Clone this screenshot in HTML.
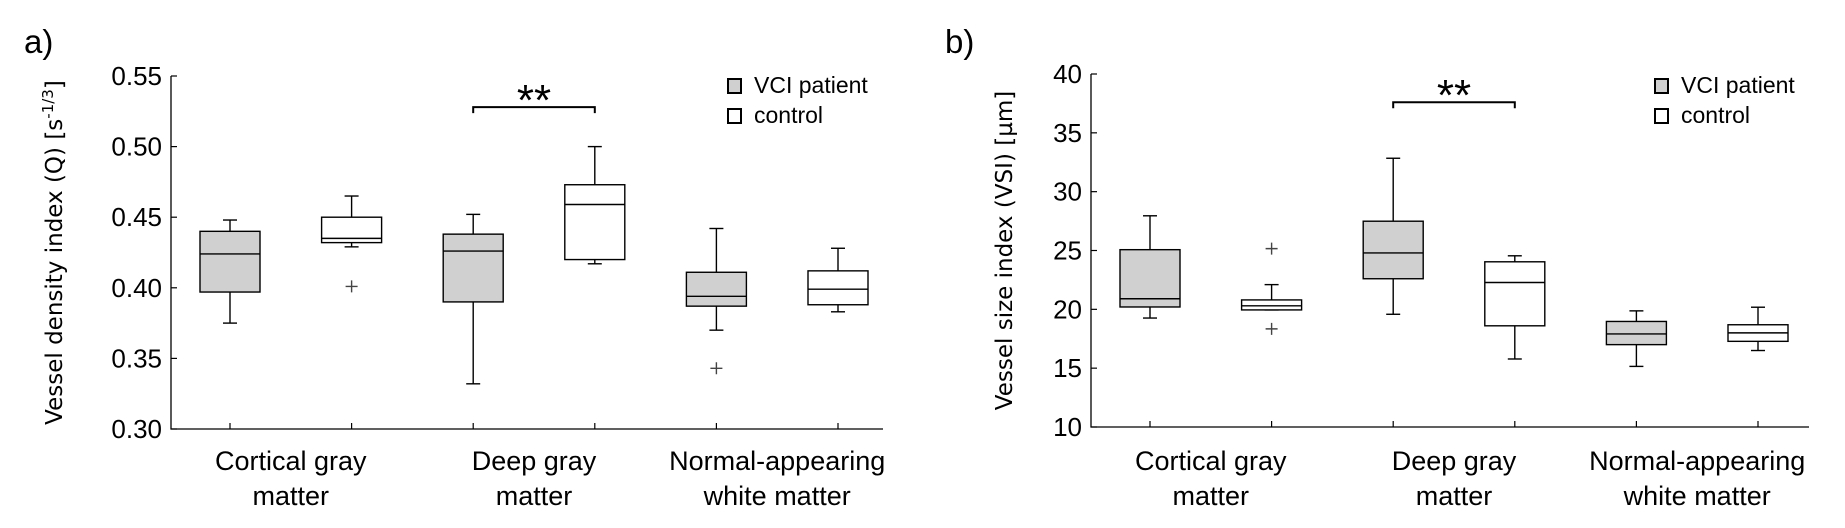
<!DOCTYPE html>
<html><head><meta charset="utf-8"><style>
html,body{margin:0;padding:0;background:#fff;}
svg{display:block;}
text{font-family:"Liberation Sans",sans-serif;fill:#000;}
.yt{font-family:"DejaVu Sans","Liberation Sans",sans-serif;}
</style></head><body>
<svg id="c" width="1845" height="528" viewBox="0 0 1845 528" xmlns="http://www.w3.org/2000/svg"></svg>
<script>
const categories = ["Cortical gray|matter","Deep gray|matter","Normal-appearing|white matter"];
// panel a: [low, q1, median, q3, high] per box, order: VCI cort, ctrl cort, VCI deep, ctrl deep, VCI nawm, ctrl nawm
const aStats = [[0.375,0.397,0.424,0.440,0.448],[0.429,0.432,0.435,0.450,0.465],[0.332,0.390,0.426,0.438,0.452],[0.417,0.420,0.459,0.473,0.500],[0.370,0.387,0.394,0.411,0.442],[0.383,0.388,0.399,0.412,0.428]];
const aOutliers = [[],[0.401],[],[],[0.343],[]];
const aTicks = ["0.30","0.35","0.40","0.45","0.50","0.55"];
const bStats = [[19.26,20.2,20.9,25.07,27.95],[19.95,19.95,20.3,20.8,22.1],[19.58,22.6,24.79,27.49,32.84],[15.78,18.6,22.28,24.04,24.55],[15.15,17.0,17.91,18.97,19.87],[16.5,17.28,18.0,18.69,20.18]];
const bOutliers = [[],[25.16,18.34],[],[],[],[]];
const bTicks = ["10","15","20","25","30","35","40"];
const aBracket = 0.528, bBracket = 37.6;

const NS="http://www.w3.org/2000/svg";
const svg=document.getElementById('c');
function mk(tag,attrs,parent){const e=document.createElementNS(NS,tag);for(const k in attrs)e.setAttribute(k,attrs[k]);(parent||svg).appendChild(e);return e;}

function panel(o){
  const g=mk('g',{});
  
  
  const ymin=parseFloat(o.ticks[0]), ymax=parseFloat(o.ticks[o.ticks.length-1]);
  const Y=v=>o.y1-(v-ymin)/(ymax-ymin)*(o.y1-o.y0);
  const X=i=>o.x0+59+i*121.6;
  const pl=mk('text',{x:o.lx,y:53,'font-size':33},g);pl.textContent=o.label;
  
  
  const ax=mk('path',{d:`M${o.x0},${o.y0}V${o.y1}H${o.x1}`,stroke:'#000','stroke-width':1.3,fill:'none'},g);
  
  
  o.ticks.forEach(t=>{const y=Y(parseFloat(t));
    mk('line',{x1:o.x0,x2:o.x0+6,y1:y,y2:y,stroke:'#000','stroke-width':1.2},g);
    const tx=mk('text',{x:o.x0-9,y:y+9,'font-size':26,'text-anchor':'end'},g);tx.textContent=t;
    
    
  });
  for(let i=0;i<6;i++) mk('line',{x1:X(i),x2:X(i),y1:o.y1,y2:o.y1-6,stroke:'#000','stroke-width':1.2},g);
  categories.forEach((c,k)=>{const cx=(X(2*k)+X(2*k+1))/2;const ls=c.split('|');
    ls.forEach((l,j)=>{const t=mk('text',{x:cx,y:470+j*35,'font-size':27,'text-anchor':'middle'},g);t.textContent=l;
      
      });
  });
  const yt=mk('text',{class:'yt',x:0,y:0,'font-size':23,'text-anchor':'middle',transform:`translate(${o.tx},${(o.y0+o.y1)/2}) rotate(-90)`},g);
  yt.innerHTML=o.title;
  
  
  o.stats.forEach((s,i)=>{const x=X(i),w=30;
    const bg=mk('g',{},g);
    
    
    mk('line',{x1:x,x2:x,y1:Y(s[0]),y2:Y(s[1]),stroke:'#000','stroke-width':1.4},bg);
    mk('line',{x1:x,x2:x,y1:Y(s[3]),y2:Y(s[4]),stroke:'#000','stroke-width':1.4},bg);
    mk('line',{x1:x-7,x2:x+7,y1:Y(s[0]),y2:Y(s[0]),stroke:'#000','stroke-width':1.4},bg);
    mk('line',{x1:x-7,x2:x+7,y1:Y(s[4]),y2:Y(s[4]),stroke:'#000','stroke-width':1.4},bg);
    mk('rect',{x:x-w,y:Y(s[3]),width:2*w,height:Y(s[1])-Y(s[3]),fill:i%2==0?'#d0d0d0':'#fff',stroke:'#000','stroke-width':1.4},bg);
    mk('line',{x1:x-w,x2:x+w,y1:Y(s[2]),y2:Y(s[2]),stroke:'#000','stroke-width':1.4},bg);
    o.out[i].forEach(v=>{const p=mk('path',{d:`M${x-6},${Y(v)}h12M${x},${Y(v)-6}v12`,stroke:'#444','stroke-width':1.4},bg);
      
      });
  });
  const by=Y(o.bracket);
  const br=mk('path',{d:`M${X(2)},${by+6}V${by}H${X(3)}V${by+6}`,stroke:'#000','stroke-width':2,fill:'none'},g);
  
  
  const st=mk('text',{x:(X(2)+X(3))/2,y:by+8,'font-size':44,'text-anchor':'middle'},g);st.textContent='**';
  
  
  const lg=mk('g',{},g);
  
  
  [['VCI patient','#d0d0d0'],['control','#fff']].forEach((e,j)=>{
    const yy=79+j*30;
    mk('rect',{x:o.legx,y:yy,width:13,height:14,fill:e[1],stroke:'#000','stroke-width':2},lg);
    const t=mk('text',{x:o.legx+26,y:yy+14,'font-size':23},lg);t.textContent=e[0];
    
    
  });
}
panel({name:'panel-a-vessel-density',label:'a)',lx:24,x0:171,x1:883,y0:76,y1:429,ticks:aTicks,stats:aStats,out:aOutliers,bracket:aBracket,tx:62,legx:728,
  title:'Vessel density index (Q) [s<tspan font-size="15" dy="-9">-1/3</tspan><tspan dy="9">]</tspan>'});
panel({name:'panel-b-vessel-size',label:'b)',lx:945,x0:1091,x1:1809,y0:74,y1:427,ticks:bTicks,stats:bStats,out:bOutliers,bracket:bBracket,tx:1012,legx:1655,
  title:'Vessel size index (VSI) [µm]'});
</script>
</body></html>
